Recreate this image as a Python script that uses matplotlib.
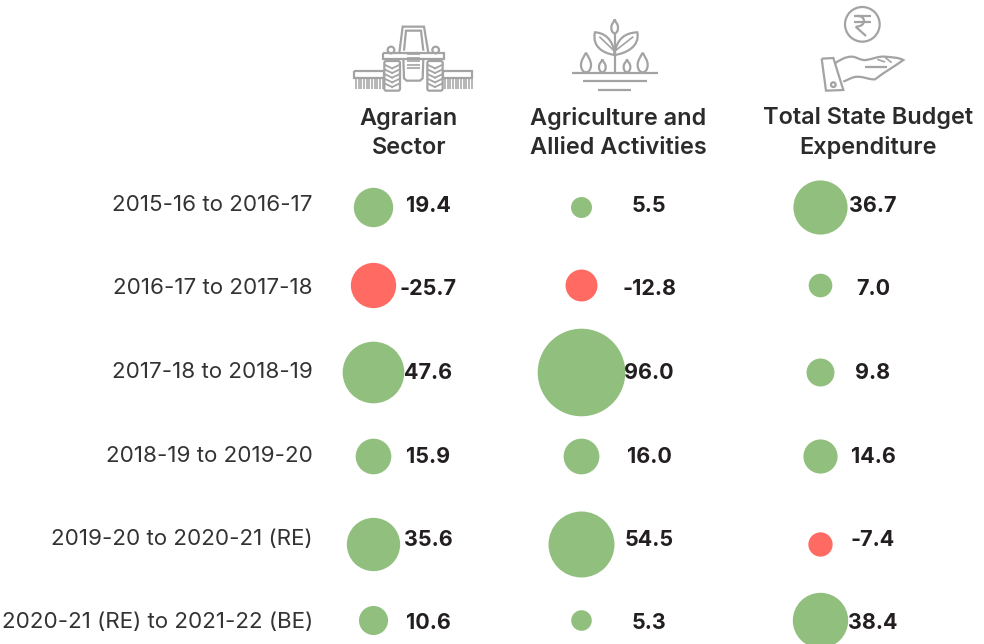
import numpy as np
import matplotlib
matplotlib.use('Agg')
import matplotlib.pyplot as plt
from matplotlib.patches import Circle, Rectangle, FancyBboxPatch, PathPatch
from matplotlib.path import Path

plt.rcParams['font.family'] = ['Inter', 'DejaVu Sans']

periods = ['2015-16 to 2016-17', '2016-17 to 2017-18', '2017-18 to 2018-19',
           '2018-19 to 2019-20', '2019-20 to 2020-21 (RE)', '2020-21 (RE) to 2021-22 (BE)']
columns = ['Agrarian\nSector', 'Agriculture and\nAllied Activities', 'Total State Budget\nExpenditure']
agrarian = [19.4, -25.7, 47.6, 15.9, 35.6, 10.6]
agriculture = [5.5, -12.8, 96.0, 16.0, 54.5, 5.3]
total_budget = [36.7, 7.0, 9.8, 14.6, -7.4, 38.4]
series = [agrarian, agriculture, total_budget]

# layout, in pixels of the 984x644 picture
bubble_x = [373, 581, 820]
value_x = [428, 649, 873]
header_x = [409, 618, 868]
bubble_y = [207, 285, 372, 456, 544, 620]
text_y = [205, 288, 372, 456, 539, 622]
k = 41.4  # bubble area per unit of value

GREEN = '#91bf7e'
RED = '#ff6b63'
INK = '#231f20'
ICON = '#a3a3a3'

fig = plt.figure(figsize=(9.84, 6.44), dpi=100)
ax = fig.add_axes([0, 0, 1, 1])
ax.set_xlim(0, 984)
ax.set_ylim(644, 0)
ax.axis('off')

for j, vals in enumerate(series):
    for i, v in enumerate(vals):
        ax.scatter(bubble_x[j], bubble_y[i], s=k * abs(v), color=GREEN if v > 0 else RED,
                   linewidths=0, clip_on=False, zorder=2)
        ax.text(value_x[j], text_y[i] + 1, f'{v:.1f}', ha='center', va='center', fontsize=15.5,
                fontweight='bold', color=INK, zorder=3)
    ax.text(header_x[j], 133, columns[j], ha='center', va='center', fontsize=16.9, color='#2b2b2b',
            fontweight='semibold', linespacing=1.38)

for i, p in enumerate(periods):
    ax.text(313, text_y[i], p, ha='right', va='center', fontsize=16.1, color='#333333')


# icons are traced from the 3x zooms
def tx(x, y):
    return 340 + x / 3, y / 3


def hx(x, y):
    return 790 + x / 3, y / 3


def line(pts, f, lw=1.6):
    p = [f(*a) for a in pts]
    ax.plot([a[0] for a in p], [a[1] for a in p], color=ICON, lw=lw, solid_capstyle='butt',
            solid_joinstyle='miter')


def curve(pts, f, lw=1.6):
    # first point then groups of three cubic bezier points
    verts = [f(*a) for a in pts]
    codes = [Path.MOVETO] + [Path.CURVE4] * (len(pts) - 1)
    ax.add_patch(PathPatch(Path(verts, codes), fc='none', ec=ICON, lw=lw))


def box(x0, y0, x1, y1, f, lw=1.6):
    line([(x0, y0), (x1, y0), (x1, y1), (x0, y1), (x0, y0)], f, lw)


def ring(x, y, r, f, lw=1.6):
    cx, cy = f(x, y)
    ax.add_patch(Circle((cx, cy), r / 3, fc='none', ec=ICON, lw=lw))


def drop(x, top, bottom, w, f):
    mid = top + (bottom - top) * 0.62
    curve([(x, top), (x - w * 0.2, top + 12), (x - w / 2, mid - 14), (x - w / 2, mid),
           (x - w / 2, bottom - 6), (x - w * 0.2, bottom), (x, bottom),
           (x + w * 0.2, bottom), (x + w / 2, bottom - 6), (x + w / 2, mid),
           (x + w / 2, mid - 14), (x + w * 0.2, top + 12), (x, top)], f)


# tractor
line([(178, 158), (188, 80), (252, 80), (265, 158)], tx)
line([(192, 152), (198, 92), (243, 92), (250, 152)], tx)
box(130, 160, 312, 176, tx)
ring(153, 150, 10, tx)
ring(287, 150, 10, tx)
line([(190, 176), (192, 235), (200, 242), (240, 242), (248, 235), (250, 176)], tx)
for y in [162, 174, 184, 194, 205]:
    line([(200, y), (240, y)], tx, 1.2)
for x0, x1 in [(133, 180), (262, 308)]:
    a, b = tx(x0, 183)
    c, d = tx(x1, 272)
    ax.add_patch(FancyBboxPatch((a + 2, b + 2), c - a - 4, d - b - 4, boxstyle='round,pad=2',
                                fc='white', ec=ICON, lw=1.6, zorder=2.5))
    xm = (x0 + x1) / 2
    for y in range(195, 265, 14):
        for s in [-1, 1]:
            p = [tx(xm, y + 10), tx(xm + s * 21, y)]
            ax.plot([p[0][0], p[1][0]], [p[0][1], p[1][1]], color=ICON, lw=1.3, zorder=3)
box(43, 214, 133, 235, tx)
box(308, 214, 397, 235, tx)
for x in list(range(48, 130, 8)) + list(range(315, 396, 8)):
    line([(x, 235), (x, 268)], tx, 1.1)

# plant
line([(695, 219), (953, 219)], tx)
line([(728, 244), (920, 244)], tx)
line([(775, 270), (872, 270)], tx)
line([(824, 100), (824, 219)], tx)
drop(824, 58, 100, 20, tx)
drop(738, 158, 217, 30, tx)
drop(787, 178, 217, 20, tx)
drop(861, 178, 217, 20, tx)
drop(908, 158, 217, 30, tx)
curve([(824, 165), (790, 160), (755, 140), (765, 97), (790, 98), (820, 115), (824, 165)], tx)
curve([(824, 165), (858, 160), (900, 140), (892, 97), (858, 98), (828, 115), (824, 165)], tx)
line([(778, 110), (822, 152)], tx, 1.2)
line([(880, 110), (826, 152)], tx, 1.2)

# hand with rupee coin
ring(217, 73, 52, hx)
line([(193, 48), (243, 48)], hx)
line([(193, 65), (243, 65)], hx)
curve([(200, 48), (228, 45), (232, 80), (197, 80)], hx)
line([(197, 80), (228, 108)], hx)
line([(95, 176), (130, 174), (160, 270), (108, 272), (95, 176)], hx)
ring(130, 254, 7, hx)
curve([(135, 190), (150, 180), (165, 170), (185, 170), (200, 170), (210, 182), (228, 180),
       (245, 178), (265, 168), (285, 170), (305, 172), (325, 172), (340, 180),
       (320, 195), (285, 215), (255, 238), (235, 240), (215, 225), (190, 232),
       (178, 236), (168, 242), (160, 245)], hx)
line([(225, 202), (290, 202)], hx)
line([(262, 178), (285, 186)], hx, 1.2)
line([(285, 172), (305, 188)], hx, 1.2)

fig.savefig('out.png', dpi=100)
